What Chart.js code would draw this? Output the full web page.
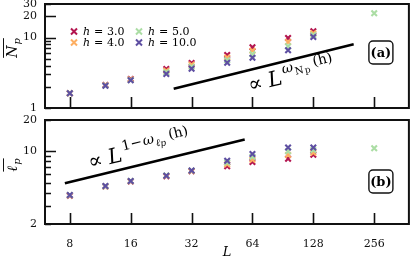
<!DOCTYPE html>
<html><head><meta charset="utf-8">
<script src="https://cdn.jsdelivr.net/npm/chart.js@4.4.0/dist/chart.umd.min.js"></script>
<style>
html,body{margin:0;padding:0;background:#fff;width:415px;height:259px;overflow:hidden;position:relative}
#c1{position:absolute;left:0;top:-10px}
#c2{position:absolute;left:0;top:112px}
</style></head><body>
<canvas id="c1" width="415" height="130"></canvas>
<canvas id="c2" width="415" height="147"></canvas>
<script>
// ---------- data ----------
const sizes = [8, 12, 16, 24, 32, 48, 64, 96, 128, 256];
const hValues = ['3.0', '4.0', '5.0', '10.0'];
const np_h3  = [1.62, 2.12, 2.58, 3.58, 4.36, 5.66, 7.28, 9.87, 12.3, null];
const np_h4  = [1.62, 2.10, 2.54, 3.39, 4.10, 5.20, 6.49, 8.63, 11.5, null];
const np_h5  = [1.62, 2.09, 2.50, 3.21, 3.85, 4.77, 5.81, 7.55, 10.9, 22.1];
const np_h10 = [1.62, 2.07, 2.47, 3.04, 3.62, 4.40, 5.18, 6.60, 10.2, null];
const lp_h3  = [3.74, 4.58, 5.12, 5.76, 6.42, 7.18, 7.90, 8.49, 9.27, null];
const lp_h4  = [3.77, 4.60, 5.15, 5.80, 6.48, 7.50, 8.30, 9.20, 9.70, null];
const lp_h5  = [3.79, 4.62, 5.18, 5.84, 6.52, 7.80, 8.85, 10.0, 10.3, 10.7];
const lp_h10 = [3.80, 4.63, 5.18, 5.83, 6.55, 8.13, 9.42, 10.9, 10.9, null];
const npGuideL = [26.1, 202.6];
const npGuideY = [1.88, 8.03];
const lpGuideL = [7.56, 58.6];
const lpGuideY = [4.92, 13.0];
const xTickValues = [8, 16, 32, 64, 128, 256];
const npYTicks = [1, 2, 3, 4, 5, 6, 7, 8, 9, 10, 20, 30];
const npYLabels = [1, 10, 20, 30];
const lpYTicks = [2, 3, 4, 5, 6, 7, 8, 9, 10, 20];
const lpYLabels = [2, 10, 20];

// ---------- styling ----------
const colors = ['#b3154f', '#fdae61', '#abdda4', '#5e4fa2'];
const SERIF = '"DejaVu Serif", serif';

function pts(xs, ys) {
  const out = [];
  xs.forEach((x, i) => { if (ys[i] !== null && ys[i] !== undefined) out.push({x: x, y: ys[i]}); });
  return out;
}
function seriesSets(arrs) {
  return arrs.map((a, i) => ({
    type: 'scatter',
    label: 'h = ' + hValues[i],
    data: pts(sizes, a),
    pointStyle: 'crossRot',
    pointRadius: 3.9,
    pointBorderWidth: 2.1,
    borderColor: colors[i],
    backgroundColor: colors[i],
    order: 4 - i
  }));
}
function guideSet(xs, ys) {
  return {
    type: 'line', label: 'guide', data: pts(xs, ys),
    borderColor: '#000', borderWidth: 2.6, pointRadius: 0, showLine: true, order: 0
  };
}

function drawRuns(ctx, x, y, angle, runs) {
  ctx.save();
  ctx.translate(x, y); ctx.rotate(angle);
  ctx.textAlign = 'left'; ctx.textBaseline = 'alphabetic'; ctx.fillStyle = '#000';
  let cx = 0;
  for (const r of runs) {
    ctx.font = r.f;
    ctx.fillText(r.t, cx, r.dy || 0);
    cx += ctx.measureText(r.t).width + (r.gap || 0);
  }
  ctx.restore();
}

const panelPlugin = {
  id: 'panel',
  afterDatasetsDraw(chart, args, o) {
    const ctx = chart.ctx, a = chart.chartArea;
    const xs = chart.scales.x, ys = chart.scales.y;
    ctx.save();
    ctx.strokeStyle = '#111'; ctx.lineWidth = 2;
    ctx.strokeRect(a.left, a.top, a.right - a.left, a.bottom - a.top);
    ctx.lineWidth = 1.6;
    ctx.beginPath();
    xTickValues.forEach(v => {
      const px = Math.round(xs.getPixelForValue(v)) + 0.5;
      ctx.moveTo(px, a.bottom); ctx.lineTo(px, a.bottom - 11);
    });
    o.yTicks.forEach(v => {
      const py = Math.round(ys.getPixelForValue(v)) + 0.5;
      const len = o.yMajor.includes(v) ? 11 : 6;
      ctx.moveTo(a.left, py); ctx.lineTo(a.left + len, py);
    });
    ctx.stroke();

    // label box (a)/(b)
    const bx = a.right - 40, by = o.boxY, bw = 24, bh = 23;
    ctx.lineWidth = 1.4;
    ctx.beginPath();
    ctx.roundRect(bx, by, bw, bh, 4);
    ctx.fillStyle = '#fff'; ctx.fill(); ctx.stroke();
    ctx.fillStyle = '#000';
    ctx.font = 'bold 13px ' + SERIF;
    ctx.textAlign = 'center'; ctx.textBaseline = 'middle';
    ctx.fillText(o.boxText, bx + bw / 2, by + bh / 2 + 1);

    // y axis title with overline
    ctx.save();
    ctx.translate(12, o.yTitleY);
    ctx.rotate(-Math.PI / 2);
    ctx.textAlign = 'left'; ctx.textBaseline = 'alphabetic';
    ctx.font = 'italic 14px ' + SERIF;
    const w1 = ctx.measureText(o.yTitle[0]).width;
    ctx.font = 'italic 10px ' + SERIF;
    const w2 = ctx.measureText(o.yTitle[1]).width;
    const tw = w1 + w2 + 1;
    ctx.font = 'italic 14px ' + SERIF;
    ctx.fillText(o.yTitle[0], -tw / 2, 5);
    ctx.font = 'italic 10px ' + SERIF;
    ctx.fillText(o.yTitle[1], -tw / 2 + w1 + 1, 8);
    ctx.lineWidth = 1;
    ctx.beginPath();
    ctx.moveTo(-tw / 2, -8.5); ctx.lineTo(tw / 2, -8.5);
    ctx.stroke();
    ctx.restore();

    // guide annotation
    drawRuns(ctx, o.annX, o.annY, o.annAngle, o.annRuns);

    // legend
    if (o.legend) {
      const pos = [[74, 31.5], [74, 42.5], [139, 31.5], [139, 42.5]];
      chart.data.datasets.filter(d => d.type === 'scatter').forEach((d, i) => {
        const [mx, my] = pos[i];
        const yy = my + 10;
        ctx.strokeStyle = d.borderColor; ctx.lineWidth = 2;
        ctx.beginPath();
        ctx.moveTo(mx - 3, yy - 3); ctx.lineTo(mx + 3, yy + 3);
        ctx.moveTo(mx - 3, yy + 3); ctx.lineTo(mx + 3, yy - 3);
        ctx.stroke();
        ctx.fillStyle = '#000'; ctx.textAlign = 'left'; ctx.textBaseline = 'middle';
        ctx.font = 'italic 11px ' + SERIF;
        ctx.fillText('h', mx + 9, yy + 0.5);
        ctx.font = '11px ' + SERIF;
        ctx.fillText('=', mx + 20, yy + 0.5);
        ctx.fillText(hValues[i], mx + 33, yy + 0.5);
      });
    }
    // x title
    if (o.xTitle) {
      ctx.fillStyle = '#000';
      ctx.font = 'italic 13px ' + SERIF;
      ctx.textAlign = 'center'; ctx.textBaseline = 'middle';
      ctx.fillText(o.xTitle, (a.left + a.right) / 2, a.bottom + 29);
    }
    ctx.restore();
  }
};

function makeOptions(cfg) {
  return {
    responsive: false, animation: false, devicePixelRatio: 1,
    layout: {padding: {top: cfg.padTop, right: 2, left: 0, bottom: 0}},
    plugins: {
      legend: {display: false}, tooltip: {enabled: false},
      panel: cfg.panel
    },
    scales: {
      x: {
        type: 'logarithmic', min: 6.03, max: 380,
        grid: {display: false}, border: {display: false},
        afterBuildTicks: s => { s.ticks = xTickValues.map(v => ({value: v})); },
        ticks: {display: cfg.xLabels, padding: 6, color: '#111', font: {family: SERIF, size: 11},
                callback: v => String(v), maxRotation: 0, autoSkip: false},
        afterFit: s => { s.height = cfg.xHeight; }
      },
      y: {
        type: 'logarithmic', min: cfg.yMin, max: cfg.yMax,
        grid: {display: true, drawOnChartArea: false, drawTicks: true, tickLength: 8, color: 'rgba(0,0,0,0)'},
        border: {display: false},
        afterBuildTicks: s => { s.ticks = cfg.yTicks.map(v => ({value: v})); },
        ticks: {padding: 0, color: '#111', font: {family: SERIF, size: 11}, autoSkip: false,
                callback: v => cfg.yLabels.includes(v) ? String(v) : ''},
        afterFit: s => { s.width = 45; }
      }
    }
  };
}

const deg = -13.7 * Math.PI / 180;

new Chart(document.getElementById('c1'), {
  type: 'scatter',
  data: {datasets: [...seriesSets([np_h3, np_h4, np_h5, np_h10]), guideSet(npGuideL, npGuideY)]},
  plugins: [panelPlugin],
  options: makeOptions({
    padTop: 14, xHeight: 12, xLabels: false, yMin: 1, yMax: 30,
    yTicks: npYTicks, yLabels: npYLabels,
    panel: {
      yTicks: npYTicks, yMajor: [10, 20], boxY: 51, boxText: '(a)',
      yTitle: ['N', 'p'], yTitleY: 58, legend: true, xTitle: null,
      annX: 250, annY: 102, annAngle: deg,
      annRuns: [
        {t: '\u221D', f: '21px ' + SERIF, gap: 6},
        {t: 'L', f: 'italic 21px ' + SERIF, gap: 2},
        {t: '\u03C9', f: 'italic 14px ' + SERIF, dy: -10, gap: 1},
        {t: 'N', f: '10px ' + SERIF, dy: -6, gap: 1},
        {t: 'p', f: '9px ' + SERIF, dy: -5, gap: 4},
        {t: '(h)', f: '14px ' + SERIF, dy: -10}
      ]
    }
  })
});

new Chart(document.getElementById('c2'), {
  type: 'scatter',
  data: {datasets: [...seriesSets([lp_h3, lp_h4, lp_h5, lp_h10]), guideSet(lpGuideL, lpGuideY)]},
  plugins: [panelPlugin],
  options: makeOptions({
    padTop: 8, xHeight: 35, xLabels: true, yMin: 2, yMax: 20,
    yTicks: lpYTicks, yLabels: lpYLabels,
    panel: {
      yTicks: lpYTicks, yMajor: [10], boxY: 58, boxText: '(b)',
      yTitle: ['\u2113', 'p'], yTitleY: 53, legend: false, xTitle: 'L',
      annX: 90, annY: 57, annAngle: deg,
      annRuns: [
        {t: '\u221D', f: '21px ' + SERIF, gap: 6},
        {t: 'L', f: 'italic 21px ' + SERIF, gap: 2},
        {t: '1\u2212', f: '14px ' + SERIF, dy: -10, gap: 1},
        {t: '\u03C9', f: 'italic 14px ' + SERIF, dy: -10, gap: 1},
        {t: '\u2113', f: 'italic 10px ' + SERIF, dy: -6, gap: 0},
        {t: 'p', f: 'italic 9px ' + SERIF, dy: -5, gap: 4},
        {t: '(h)', f: '14px ' + SERIF, dy: -10}
      ]
    }
  })
});
</script>
</body></html>
